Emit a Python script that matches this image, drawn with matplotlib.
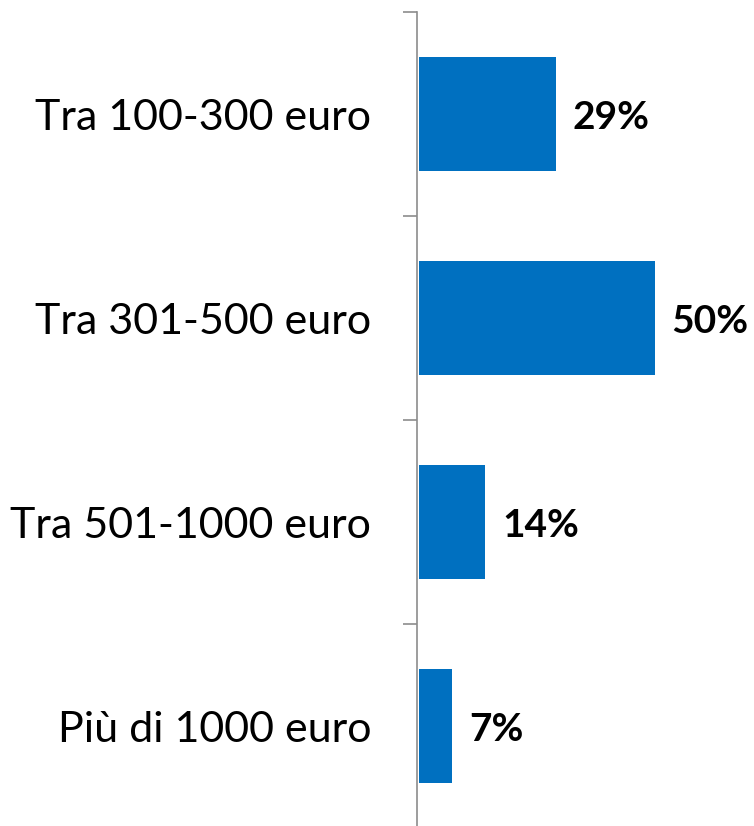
import numpy as np
import matplotlib.pyplot as plt

categories = ["Tra 100-300 euro", "Tra 301-500 euro", "Tra 501-1000 euro", "Più di 1000 euro"]
values = [29, 50, 14, 7]
labels = ["29%", "50%", "14%", "7%"]

fig = plt.figure(figsize=(7.54, 8.26), dpi=100)
W, H = 754.0, 826.0
ax = fig.add_axes([417 / W, -2 / H, 283 / W, 816 / H])

y = np.arange(len(categories))
ax.barh(y, values, height=0.56, color="#0070C0", left=0.4)
ax.set_ylim(len(categories) - 0.5, -0.5)
ax.set_xlim(0, 60)

for yi, v, lab in zip(y, values, labels):
    ax.text(v + 0.4 + 3.6, yi + 0.015, lab, va="center", ha="left", fontsize=28,
            fontweight="bold", family="Lato", clip_on=False)

ax.set_yticks(np.arange(len(categories) + 1) - 0.5, minor=False)
ax.set_yticklabels([])
ax.set_yticks(y, minor=True)
ax.set_yticklabels(categories, minor=True, fontsize=31, family="Lato")
ax.tick_params(axis="y", which="major", length=10, color="#8C8C8C", width=1.2)
ax.tick_params(axis="y", which="minor", length=0, pad=33)
ax.set_xticks([])
for s in ["top", "right", "bottom"]:
    ax.spines[s].set_visible(False)
ax.spines["left"].set_color("#8C8C8C")
ax.spines["left"].set_linewidth(1.2)

fig.savefig("out.png", dpi=100)
